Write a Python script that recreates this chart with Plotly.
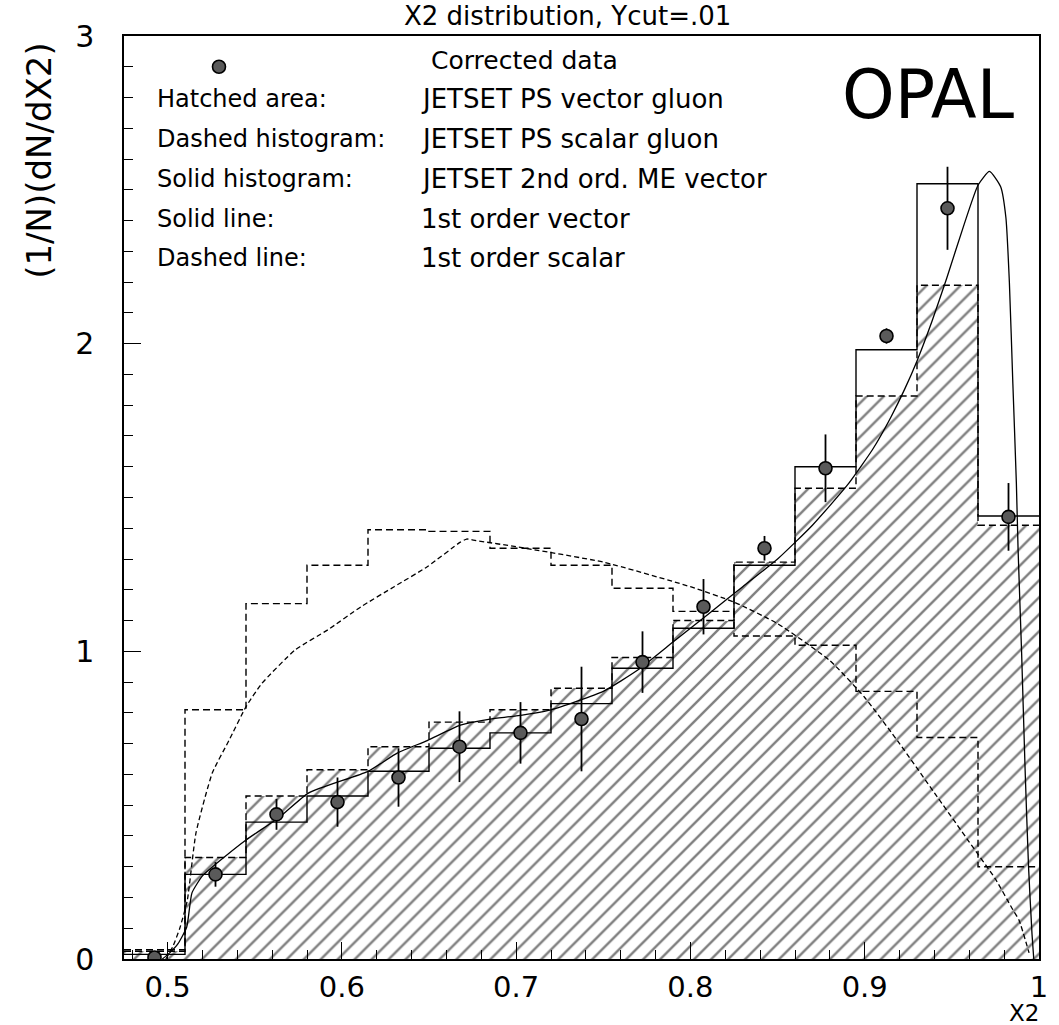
import plotly.graph_objects as go

# ---------------- data ----------------
bin_edges = [0.475, 0.51, 0.545, 0.58, 0.615, 0.65, 0.685, 0.72, 0.755,
             0.79, 0.825, 0.86, 0.895, 0.93, 0.965, 1.0]
bin_centers = [0.4925, 0.5275, 0.5625, 0.5975, 0.6325, 0.6675, 0.7025, 0.7375,
               0.7725, 0.8075, 0.8425, 0.8775, 0.9125, 0.9475, 0.9825]
bin_width = 0.035

ps_vector = [0.025, 0.33, 0.53, 0.615, 0.69, 0.77, 0.81, 0.88, 0.98, 1.10,
             1.29, 1.53, 1.83, 2.19, 1.41]
ps_scalar = [0.03, 0.81, 1.155, 1.28, 1.395, 1.39, 1.335, 1.28, 1.205, 1.13,
             1.05, 1.02, 0.87, 0.72, 0.30]
me_vector = [0.015, 0.275, 0.445, 0.53, 0.61, 0.685, 0.735, 0.83, 0.945, 1.075,
             1.28, 1.60, 1.98, 2.52, 1.44]

data_y = [0.005, 0.275, 0.47, 0.51, 0.59, 0.69, 0.735, 0.78, 0.965, 1.145,
          1.335, 1.595, 2.025, 2.44, 1.437]
data_err = [0.01, 0.04, 0.05, 0.08, 0.095, 0.115, 0.10, 0.17, 0.10, 0.09,
            0.04, 0.11, 0.025, 0.135, 0.11]

vec1_x = [0.497, 0.5012, 0.506, 0.511, 0.514, 0.52, 0.528, 0.545, 0.564, 0.581,
          0.615, 0.632, 0.649, 0.668, 0.685, 0.70, 0.72, 0.75, 0.77, 0.79,
          0.81, 0.83, 0.85, 0.87, 0.89, 0.9045, 0.915, 0.923, 0.930, 0.9386,
          0.947, 0.957, 0.965, 0.9716, 0.978, 0.981, 0.983, 0.985, 0.987,
          0.988, 0.990, 0.992, 0.994, 0.996, 0.997]
vec1_y = [0.0, 0.02, 0.05, 0.104, 0.215, 0.27, 0.31, 0.387, 0.46, 0.54,
          0.61, 0.67, 0.71, 0.76, 0.78, 0.79, 0.81, 0.87, 0.94, 1.03,
          1.12, 1.21, 1.30, 1.41, 1.54, 1.656, 1.761, 1.853, 1.944, 2.073,
          2.212, 2.387, 2.515, 2.56, 2.51, 2.41, 2.20, 1.87, 1.55,
          1.33, 1.00, 0.62, 0.30, 0.08, 0.0]

sca1_x = [0.499, 0.503, 0.507, 0.5113, 0.5163, 0.5257, 0.5352, 0.545, 0.554,
          0.5733, 0.592, 0.611, 0.630, 0.649, 0.668, 0.6716, 0.677, 0.70,
          0.75, 0.80, 0.825, 0.85, 0.88, 0.90, 0.92, 0.94, 0.96, 0.975,
          0.985, 0.9885, 0.9943]
sca1_y = [0.0, 0.04, 0.10, 0.19, 0.41, 0.605, 0.71, 0.82, 0.895,
          1.005, 1.07, 1.145, 1.21, 1.275, 1.355, 1.365, 1.36, 1.34,
          1.29, 1.21, 1.16, 1.09, 0.97, 0.85, 0.70, 0.54, 0.38, 0.26,
          0.16, 0.127, 0.02]

x_tick_vals = [0.5, 0.6, 0.7, 0.8, 0.9, 1.0]
x_tick_text = ["0.5", "0.6", "0.7", "0.8", "0.9", "1"]
y_tick_vals = [0, 1, 2, 3]
y_tick_text = ["0", "1", "2", "3"]

legend_left = ["Hatched area:", "Dashed histogram:", "Solid histogram:",
               "Solid line:", "Dashed line:"]
legend_right = ["JETSET PS vector gluon", "JETSET PS scalar gluon",
                "JETSET 2nd ord. ME vector", "1st order vector",
                "1st order scalar"]

FONT = "DejaVu Sans"
W, H = 1059, 1025
ML, MR, MT, MB = 124, 11, 36, 66
PW, PH = W - ML - MR, H - MT - MB


def px(xp):
    return (xp - ML) / PW


def py(yp):
    return (H - yp - MB) / PH


def step(vals):
    return bin_edges, list(vals) + [vals[-1]]


fig = go.Figure()

# hatched area
fig.add_trace(go.Bar(
    x=bin_centers, y=ps_vector, width=bin_width,
    marker=dict(color="white", line=dict(width=0),
                pattern=dict(shape="/", fgcolor="black", bgcolor="white",
                             size=12, solidity=0.2)),
    showlegend=False, hoverinfo="skip"))

sx, sy = step(ps_vector)
fig.add_trace(go.Scatter(x=sx, y=sy, mode="lines", line_shape="hv",
                         line=dict(color="black", width=1.4, dash="7px,4px"),
                         showlegend=False))
sx, sy = step(ps_scalar)
fig.add_trace(go.Scatter(x=sx, y=sy, mode="lines", line_shape="hv",
                         line=dict(color="black", width=1.4, dash="7px,4px"),
                         showlegend=False))
sx, sy = step(me_vector)
fig.add_trace(go.Scatter(x=sx, y=sy, mode="lines", line_shape="hv",
                         line=dict(color="black", width=1.4),
                         showlegend=False))

fig.add_trace(go.Scatter(x=vec1_x, y=vec1_y, mode="lines",
                         line=dict(color="black", width=1.3, shape="spline",
                                   smoothing=0.5),
                         showlegend=False))
fig.add_trace(go.Scatter(x=sca1_x, y=sca1_y, mode="lines",
                         line=dict(color="black", width=1.3, shape="spline",
                                   smoothing=0.5, dash="5px,3px"),
                         showlegend=False))

fig.add_trace(go.Scatter(
    x=bin_centers, y=data_y, mode="markers",
    error_y=dict(type="data", array=data_err, color="black", thickness=1.8,
                 width=0),
    marker=dict(symbol="circle", size=13, color="#5a5a5a",
                line=dict(color="black", width=1.6)),
    showlegend=False))

# legend marker
fig.add_trace(go.Scatter(
    x=[0.5295], y=[2.90], mode="markers",
    marker=dict(symbol="circle", size=13, color="#5a5a5a",
                line=dict(color="black", width=1.6)),
    showlegend=False))

annotations = []


def add_text(xp, yp, text, size, anchor="left", angle=0, weight="normal"):
    annotations.append(dict(
        xref="paper", yref="paper", x=px(xp), y=py(yp), text=text,
        showarrow=False, xanchor=anchor, yanchor="middle", textangle=angle,
        font=dict(family=FONT, size=size, color="black", weight=weight)))


add_text(432, 61, "Corrected data", 25)
rows_y = [99, 139, 179, 219, 258]
for i, (l, r) in enumerate(zip(legend_left, legend_right)):
    add_text(155, rows_y[i], l, 24)
    add_text(422, rows_y[i], r, 26)

add_text(936, 95, "OPAL", 67, anchor="center")
add_text(572, 16, "X2 distribution, Ycut=.01", 26, anchor="center")
add_text(1050, 1013, "X2", 23, anchor="right")
add_text(38, 160, "(1/N)(dN/dX2)", 34, anchor="center", angle=-90)

fig.update_layout(
    width=W, height=H,
    margin=dict(l=ML, r=MR, t=MT, b=MB),
    plot_bgcolor="white", paper_bgcolor="white",
    showlegend=False, barmode="overlay", bargap=0,
    annotations=annotations,
    xaxis=dict(range=[0.475, 1.0], showgrid=False, zeroline=False,
               showline=True, linecolor="black", linewidth=1.5, mirror=True,
               ticks="inside", ticklen=17, tickwidth=1.3, tickcolor="black",
               tickvals=x_tick_vals, ticktext=x_tick_text,
               ticklabelstandoff=1,
               tickfont=dict(family=FONT, size=29, color="black"),
               minor=dict(dtick=0.02, tick0=0.5, ticks="inside", ticklen=9,
                          tickwidth=1, tickcolor="black")),
    yaxis=dict(range=[0, 3], showgrid=False, zeroline=False,
               showline=True, linecolor="black", linewidth=1.5, mirror=True,
               ticks="inside", ticklen=17, tickwidth=1.3, tickcolor="black",
               tickvals=y_tick_vals, ticktext=y_tick_text,
               ticklabelstandoff=22,
               tickfont=dict(family=FONT, size=30, color="black"),
               minor=dict(dtick=0.1, ticks="inside", ticklen=9,
                          tickwidth=1, tickcolor="black")),
)

fig.write_html("out.html")
